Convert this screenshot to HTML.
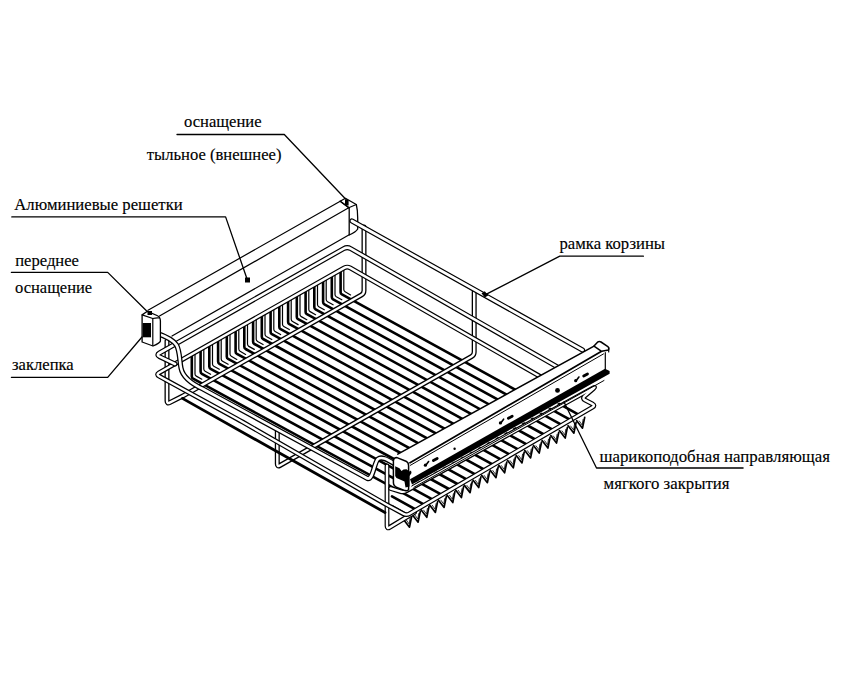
<!DOCTYPE html>
<html><head><meta charset="utf-8"><style>
html,body{margin:0;padding:0;background:#fff;width:845px;height:678px;overflow:hidden}
svg{display:block}
text{font-family:"Liberation Serif",serif;fill:#000;stroke:#000;stroke-width:0.15px}
</style></head><body>
<svg width="845" height="678" viewBox="0 0 845 678">
<g fill="none" stroke="#000" stroke-linecap="round" stroke-linejoin="round">
<path d="M392.0,506.1 L406.5,514.2" stroke-width="2.6" stroke="#000" fill="none"/>
<path d="M392.0,496.3 L415.1,509.2" stroke-width="2.6" stroke="#000" fill="none"/>
<path d="M195.0,352.7 L195.0,373.9 Q195.0,375.4 196.3,376.1 L201.8,379.2" stroke-width="1.2" stroke="#000" fill="none"/>
<path d="M191.8,354.5 L191.8,376.5 Q191.8,378.0 193.1,378.7 L423.8,504.3" stroke-width="2.6" stroke="#000" fill="none"/>
<path d="M203.8,347.8 L203.8,369.0 Q203.8,370.5 205.1,371.2 L210.6,374.3" stroke-width="1.2" stroke="#000" fill="none"/>
<path d="M200.6,349.6 L200.6,371.6 Q200.6,373.1 201.9,373.8 L432.4,499.4" stroke-width="2.6" stroke="#000" fill="none"/>
<path d="M212.5,342.8 L212.5,364.0 Q212.5,365.5 213.8,366.2 L219.3,369.3" stroke-width="1.2" stroke="#000" fill="none"/>
<path d="M209.3,344.6 L209.3,366.6 Q209.3,368.1 210.6,368.8 L441.1,494.4" stroke-width="2.6" stroke="#000" fill="none"/>
<path d="M221.2,337.8 L221.2,359.0 Q221.2,360.5 222.6,361.3 L228.1,364.3" stroke-width="1.2" stroke="#000" fill="none"/>
<path d="M218.1,339.6 L218.1,361.6 Q218.1,363.1 219.4,363.8 L449.8,489.5" stroke-width="2.6" stroke="#000" fill="none"/>
<path d="M230.0,332.9 L230.0,354.1 Q230.0,355.6 231.3,356.3 L236.8,359.4" stroke-width="1.2" stroke="#000" fill="none"/>
<path d="M226.8,334.7 L226.8,356.7 Q226.8,358.2 228.1,358.9 L458.4,484.5" stroke-width="2.6" stroke="#000" fill="none"/>
<path d="M238.8,327.9 L238.8,349.1 Q238.8,350.6 240.1,351.3 L245.6,354.4" stroke-width="1.2" stroke="#000" fill="none"/>
<path d="M235.6,329.7 L235.6,351.7 Q235.6,353.2 236.9,353.9 L467.1,479.6" stroke-width="2.6" stroke="#000" fill="none"/>
<path d="M247.5,322.9 L247.5,344.1 Q247.5,345.6 248.8,346.4 L254.3,349.4" stroke-width="1.2" stroke="#000" fill="none"/>
<path d="M244.3,324.7 L244.3,346.7 Q244.3,348.2 245.6,349.0 L475.7,474.6" stroke-width="2.6" stroke="#000" fill="none"/>
<path d="M256.2,318.0 L256.2,339.2 Q256.2,340.7 257.6,341.4 L263.1,344.5" stroke-width="1.2" stroke="#000" fill="none"/>
<path d="M253.1,319.8 L253.1,341.8 Q253.1,343.3 254.4,344.0 L484.4,469.7" stroke-width="2.6" stroke="#000" fill="none"/>
<path d="M265.0,313.0 L265.0,334.2 Q265.0,335.7 266.3,336.5 L271.8,339.5" stroke-width="1.2" stroke="#000" fill="none"/>
<path d="M261.8,314.8 L261.8,336.8 Q261.8,338.3 263.1,339.0 L493.0,464.7" stroke-width="2.6" stroke="#000" fill="none"/>
<path d="M273.8,308.1 L273.8,329.3 Q273.8,330.8 275.1,331.5 L280.6,334.6" stroke-width="1.2" stroke="#000" fill="none"/>
<path d="M270.6,309.9 L270.6,331.9 Q270.6,333.4 271.9,334.1 L501.6,459.8" stroke-width="2.6" stroke="#000" fill="none"/>
<path d="M282.5,303.1 L282.5,324.3 Q282.5,325.8 283.8,326.5 L289.3,329.6" stroke-width="1.2" stroke="#000" fill="none"/>
<path d="M279.3,304.9 L279.3,326.9 Q279.3,328.4 280.6,329.1 L510.3,454.8" stroke-width="2.6" stroke="#000" fill="none"/>
<path d="M291.2,298.1 L291.2,319.3 Q291.2,320.8 292.6,321.6 L298.1,324.6" stroke-width="1.2" stroke="#000" fill="none"/>
<path d="M288.1,299.9 L288.1,321.9 Q288.1,323.4 289.4,324.2 L519.0,449.9" stroke-width="2.6" stroke="#000" fill="none"/>
<path d="M300.0,293.2 L300.0,314.4 Q300.0,315.9 301.3,316.6 L306.8,319.7" stroke-width="1.2" stroke="#000" fill="none"/>
<path d="M296.8,295.0 L296.8,317.0 Q296.8,318.5 298.1,319.2 L527.6,444.9" stroke-width="2.6" stroke="#000" fill="none"/>
<path d="M308.8,288.2 L308.8,309.4 Q308.8,310.9 310.1,311.6 L315.6,314.7" stroke-width="1.2" stroke="#000" fill="none"/>
<path d="M305.6,290.0 L305.6,312.0 Q305.6,313.5 306.9,314.2 L536.2,440.0" stroke-width="2.6" stroke="#000" fill="none"/>
<path d="M317.5,283.3 L317.5,304.5 Q317.5,306.0 318.8,306.7 L324.3,309.8" stroke-width="1.2" stroke="#000" fill="none"/>
<path d="M314.3,285.1 L314.3,307.1 Q314.3,308.6 315.6,309.3 L544.9,435.0" stroke-width="2.6" stroke="#000" fill="none"/>
<path d="M326.2,278.3 L326.2,299.5 Q326.2,301.0 327.6,301.7 L333.1,304.8" stroke-width="1.2" stroke="#000" fill="none"/>
<path d="M323.1,280.1 L323.1,302.1 Q323.1,303.6 324.4,304.3 L553.5,430.1" stroke-width="2.6" stroke="#000" fill="none"/>
<path d="M335.0,273.3 L335.0,294.5 Q335.0,296.0 336.3,296.8 L341.8,299.8" stroke-width="1.2" stroke="#000" fill="none"/>
<path d="M331.8,275.1 L331.8,297.1 Q331.8,298.6 333.1,299.4 L562.2,425.1" stroke-width="2.6" stroke="#000" fill="none"/>
<path d="M343.8,268.4 L343.8,289.6 Q343.8,291.1 345.1,291.8 L350.6,294.9" stroke-width="1.2" stroke="#000" fill="none"/>
<path d="M340.6,270.2 L340.6,292.2 Q340.6,293.7 341.9,294.4 L570.9,420.2" stroke-width="2.6" stroke="#000" fill="none"/>
<path d="M539.5,392.8 L579.5,415.2" stroke-width="2.6" stroke="#000" fill="none"/>
<polyline points="403.7,519.7 409.5,527.2 411.7,516.4" stroke-width="1.7" stroke="#000"/>
<polyline points="406.3,520.0 409.2,524.0 410.1,518.4" stroke-width="0.8" stroke="#000"/>
<polyline points="412.3,514.8 418.1,522.2 420.3,511.4" stroke-width="1.7" stroke="#000"/>
<polyline points="414.9,515.0 417.8,519.0 418.8,513.5" stroke-width="0.8" stroke="#000"/>
<polyline points="421.0,509.8 426.8,517.3 429.0,506.5" stroke-width="1.7" stroke="#000"/>
<polyline points="423.6,510.1 426.5,514.1 427.4,508.5" stroke-width="0.8" stroke="#000"/>
<polyline points="429.6,504.9 435.4,512.4 437.6,501.6" stroke-width="1.7" stroke="#000"/>
<polyline points="432.2,505.2 435.1,509.2 436.1,503.6" stroke-width="0.8" stroke="#000"/>
<polyline points="438.3,499.9 444.1,507.4 446.3,496.6" stroke-width="1.7" stroke="#000"/>
<polyline points="440.9,500.2 443.8,504.2 444.7,498.6" stroke-width="0.8" stroke="#000"/>
<polyline points="446.9,495.0 452.8,502.5 454.9,491.7" stroke-width="1.7" stroke="#000"/>
<polyline points="449.6,495.3 452.4,499.3 453.4,493.7" stroke-width="0.8" stroke="#000"/>
<polyline points="455.6,490.0 461.4,497.5 463.6,486.7" stroke-width="1.7" stroke="#000"/>
<polyline points="458.2,490.3 461.1,494.3 462.0,488.7" stroke-width="0.8" stroke="#000"/>
<polyline points="464.2,485.1 470.1,492.6 472.2,481.8" stroke-width="1.7" stroke="#000"/>
<polyline points="466.9,485.4 469.8,489.4 470.7,483.8" stroke-width="0.8" stroke="#000"/>
<polyline points="472.9,480.1 478.7,487.6 480.9,476.8" stroke-width="1.7" stroke="#000"/>
<polyline points="475.5,480.4 478.4,484.4 479.3,478.8" stroke-width="0.8" stroke="#000"/>
<polyline points="481.6,475.2 487.4,482.7 489.6,471.9" stroke-width="1.7" stroke="#000"/>
<polyline points="484.2,475.5 487.1,479.5 488.0,473.9" stroke-width="0.8" stroke="#000"/>
<polyline points="490.2,470.2 496.0,477.7 498.2,466.9" stroke-width="1.7" stroke="#000"/>
<polyline points="492.8,470.5 495.7,474.5 496.6,468.9" stroke-width="0.8" stroke="#000"/>
<polyline points="498.8,465.3 504.6,472.8 506.8,462.0" stroke-width="1.7" stroke="#000"/>
<polyline points="501.4,465.6 504.3,469.6 505.2,464.0" stroke-width="0.8" stroke="#000"/>
<polyline points="507.5,460.3 513.3,467.8 515.5,457.0" stroke-width="1.7" stroke="#000"/>
<polyline points="510.1,460.6 513.0,464.6 513.9,459.0" stroke-width="0.8" stroke="#000"/>
<polyline points="516.2,455.4 522.0,462.9 524.2,452.1" stroke-width="1.7" stroke="#000"/>
<polyline points="518.8,455.7 521.7,459.7 522.6,454.1" stroke-width="0.8" stroke="#000"/>
<polyline points="524.8,450.4 530.6,457.9 532.8,447.1" stroke-width="1.7" stroke="#000"/>
<polyline points="527.4,450.7 530.3,454.7 531.2,449.1" stroke-width="0.8" stroke="#000"/>
<polyline points="533.5,445.5 539.2,453.0 541.5,442.2" stroke-width="1.7" stroke="#000"/>
<polyline points="536.0,445.8 539.0,449.8 539.9,444.2" stroke-width="0.8" stroke="#000"/>
<polyline points="542.1,440.5 547.9,448.0 550.1,437.2" stroke-width="1.7" stroke="#000"/>
<polyline points="544.7,440.8 547.6,444.8 548.5,439.2" stroke-width="0.8" stroke="#000"/>
<polyline points="550.8,435.6 556.5,443.1 558.8,432.3" stroke-width="1.7" stroke="#000"/>
<polyline points="553.3,435.9 556.2,439.9 557.1,434.3" stroke-width="0.8" stroke="#000"/>
<polyline points="559.4,430.6 565.2,438.1 567.4,427.3" stroke-width="1.7" stroke="#000"/>
<polyline points="562.0,430.9 564.9,434.9 565.8,429.3" stroke-width="0.8" stroke="#000"/>
<polyline points="568.1,425.7 573.9,433.2 576.1,422.4" stroke-width="1.7" stroke="#000"/>
<polyline points="570.6,426.0 573.6,430.0 574.5,424.4" stroke-width="0.8" stroke="#000"/>
<polyline points="576.7,420.7 582.5,428.2 584.7,417.4" stroke-width="1.7" stroke="#000"/>
<polyline points="579.3,421.0 582.2,425.0 583.1,419.4" stroke-width="0.8" stroke="#000"/>
<path d="M167.0,341.0 L167.0,401.0 Q167.0,404.0 169.7,402.6 L181.3,396.8 Q184.0,395.4 186.6,393.9 L361.4,295.0 Q364.0,293.5 364.0,290.5 L364.0,227.0" stroke-width="5.0" stroke="#000" fill="none"/>
<path d="M167.0,341.0 L167.0,401.0 Q167.0,404.0 169.7,402.6 L181.3,396.8 Q184.0,395.4 186.6,393.9 L361.4,295.0 Q364.0,293.5 364.0,290.5 L364.0,227.0" stroke-width="2.4" stroke="#fff" fill="none"/>
<path d="M277.3,430.0 L277.3,464.0 Q277.3,467.0 279.9,465.5 L471.6,356.5 Q474.2,355.0 474.2,352.0 L474.2,292.0" stroke-width="5.0" stroke="#000" fill="none"/>
<path d="M277.3,430.0 L277.3,464.0 Q277.3,467.0 279.9,465.5 L471.6,356.5 Q474.2,355.0 474.2,352.0 L474.2,292.0" stroke-width="2.4" stroke="#fff" fill="none"/>
<path d="M387.0,466.0 L387.0,526.0 Q387.0,529.0 389.6,527.4 L414.5,512.4" stroke-width="4.8" stroke="#000" fill="none"/>
<path d="M387.0,466.0 L387.0,526.0 Q387.0,529.0 389.6,527.4 L414.5,512.4" stroke-width="2.4" stroke="#fff" fill="none"/>
<path d="M539.6,376.2 L350.2,267.9 Q347.2,266.2 344.2,267.9 L159.0,372.8 Q156.0,374.5 159.1,376.2 L236.9,418.8 Q240.0,420.5 243.0,422.2 L381.5,501.8 Q384.5,503.5 387.6,505.2 L403.4,513.8 Q406.5,515.5 409.5,513.7 L592.5,407.3 Q595.5,405.5 592.4,403.9 L585.1,400.1 Q582.0,398.5 584.6,396.2 L593.4,388.6 Q596.0,386.3 592.9,388.0 L406.4,490.8 Q403.3,492.5 400.0,491.4 L390.6,488.5" stroke-width="4.8" stroke="#000" fill="none"/>
<path d="M539.6,376.2 L350.2,267.9 Q347.2,266.2 344.2,267.9 L159.0,372.8 Q156.0,374.5 159.1,376.2 L236.9,418.8 Q240.0,420.5 243.0,422.2 L381.5,501.8 Q384.5,503.5 387.6,505.2 L403.4,513.8 Q406.5,515.5 409.5,513.7 L592.5,407.3 Q595.5,405.5 592.4,403.9 L585.1,400.1 Q582.0,398.5 584.6,396.2 L593.4,388.6 Q596.0,386.3 592.9,388.0 L406.4,490.8 Q403.3,492.5 400.0,491.4 L390.6,488.5" stroke-width="2.4" stroke="#fff" fill="none"/>
<path d="M175.0,364.0 L159.6,356.7 Q156.0,355.0 159.5,353.0 L343.7,248.6 Q347.2,246.6 350.7,248.6 L558.6,367.6" stroke-width="5.0" stroke="#000" fill="none"/>
<path d="M175.0,364.0 L159.6,356.7 Q156.0,355.0 159.5,353.0 L343.7,248.6 Q347.2,246.6 350.7,248.6 L558.6,367.6" stroke-width="2.6" stroke="#fff" fill="none"/>
<line x1="182.4" y1="398.4" x2="385.0" y2="512.5" stroke-width="2.8" stroke="#000"/>
<polygon points="148.0,310.3 340.2,201.2 348.7,207.8 349.2,234.8 172.0,336.0 160.0,342.0 159.5,316.0" fill="#fff" stroke-width="0" stroke="none"/>
<line x1="148.0" y1="310.3" x2="340.2" y2="201.2" stroke-width="1.2" stroke="#000"/>
<line x1="159.5" y1="316.0" x2="348.7" y2="207.8" stroke-width="1.2" stroke="#000"/>
<line x1="172.0" y1="336.0" x2="349.2" y2="234.8" stroke-width="1.2" stroke="#000"/>
<path d="M156,333 C165,336 173,340 176.5,345 C180,351 179.5,361 181,368 C182.5,376 190,383 203,389 L367.5,478.5 C373,480 374,463 378,459 C382,456 388,460 395,464" stroke-width="5.2" stroke="#000" fill="none"/>
<path d="M156,333 C165,336 173,340 176.5,345 C180,351 179.5,361 181,368 C182.5,376 190,383 203,389 L367.5,478.5 C373,480 374,463 378,459 C382,456 388,460 395,464" stroke-width="2.6" stroke="#fff" fill="none"/>
<path d="M142.1,314.9 L147.4,311.3 L157,315.5 Q160.4,317 160.4,321 L160.4,341 Q160,343 153,346 L142.1,342 Z" stroke-width="1.3" fill="#fff" stroke="#000"/>
<line x1="142.1" y1="314.9" x2="152.8" y2="318.5" stroke-width="1.2" stroke="#000"/>
<line x1="152.8" y1="318.5" x2="152.8" y2="345.6" stroke-width="1.2" stroke="#000"/>
<path d="M152.8,318.5 Q157,317.5 159,318" stroke-width="1.1" fill="none" stroke="#000"/>
<rect x="142.7" y="323" width="8.3" height="14.3" fill="#000" stroke="none"/>
<rect x="147.5" y="311" width="4.5" height="4" fill="#000" stroke="none"/>
<path d="M340.2,201.2 L345.4,198.3 L356.3,204.5 Q357.7,210 357.7,218 L357.7,229 Q356,232 349.2,235 L349.2,207.8 Z" stroke-width="1.3" fill="#fff" stroke="#000"/>
<line x1="340.2" y1="201.2" x2="348.7" y2="207.8" stroke-width="1.2" stroke="#000"/>
<line x1="348.7" y1="207.8" x2="356.3" y2="204.5" stroke-width="1.2" stroke="#000"/>
<rect x="345" y="200" width="3.6" height="5.5" fill="#000" stroke="none"/>
<path d="M352.0,221.0 L582.5,350.0" stroke-width="5.2" stroke="#000" fill="none"/>
<path d="M352.0,221.0 L582.5,350.0" stroke-width="2.8" stroke="#fff" fill="none"/>
<polygon points="481.5,293.2 484.8,291.2 488.2,295.6 484.8,297.6" fill="#000" stroke-width="0" stroke="none"/>
<polygon points="397.8,454.1 594.0,346.1 599.2,341.4 608.7,347.5 609.6,374.5 412.0,485.0 409.7,490.0 405.5,489.8 395.4,484.5 395.4,458.5" fill="#fff" stroke-width="0" stroke="none"/>
<line x1="397.8" y1="454.1" x2="594.0" y2="346.1" stroke-width="1.6" stroke="#000"/>
<line x1="410.0" y1="462.7" x2="601.6" y2="351.2" stroke-width="1.8" stroke="#000"/>
<line x1="410.4" y1="465.3" x2="603.5" y2="353.9" stroke-width="1.0" stroke="#000"/>
<path d="M594,346.1 L597.5,342.2 Q599.2,341 601,342 L607.5,346.3 Q609.5,348 608.5,350 L601.6,351.3 Z" stroke-width="1.5" fill="#fff" stroke="#000"/>
<line x1="608.7" y1="347.5" x2="608.7" y2="352.0" stroke-width="1.2" stroke="#000"/>
<line x1="605.3" y1="352.7" x2="605.3" y2="370.7" stroke-width="1.2" stroke="#000"/>
<polygon points="410.0,479.2 605.0,368.8 609.6,371.0 609.6,373.8 412.0,484.6" fill="#000" stroke-width="0" stroke="none"/>
<line x1="413.9" y1="487.3" x2="604.0" y2="380.5" stroke-width="1.0" stroke="#000"/>
<path d="M393.4,461 Q393.6,457.6 397,457.6 L406,461.2 Q408.6,462.6 408.6,465.5 L408.6,489.5 Q408,491.2 405,490.6 L397.5,487.8 Q393.4,486.2 393.4,482.5 Z" stroke-width="1.5" fill="#fff" stroke="#000"/>
<path d="M395.2,466.2 L399.5,468.2 L401.5,471 L403.5,469.5 L406.5,469.2 L409.5,471.5 L411,470.5 L411.5,473 L409.5,476 L409.5,486.5 L405.5,487.5 L404.5,481.5 L396.5,478 L395.2,476 Z" stroke-width="0" fill="#000" stroke="#000"/>
<circle cx="425.4" cy="465.2" r="1.6" fill="#000" stroke="none"/>
<path d="M426,465.0 L428.6,461.5" stroke-width="1.6" fill="none"/>
<path d="M433.4,460.6 L437.2,458.5" stroke-width="2.8" fill="none"/>
<circle cx="500.4" cy="422.9" r="1.6" fill="#000" stroke="none"/>
<path d="M501,422.7 L503.6,419.2" stroke-width="1.6" fill="none"/>
<path d="M508.4,418.3 L512.2,416.2" stroke-width="2.8" fill="none"/>
<circle cx="575.6999999999999" cy="380.7" r="1.6" fill="#000" stroke="none"/>
<path d="M576.3,380.5 L578.9,377" stroke-width="1.6" fill="none"/>
<path d="M583.6999999999999,376.1 L587.5,374.0" stroke-width="2.8" fill="none"/>
<circle cx="557.5" cy="390.4" r="2.4" fill="#000" stroke="none"/>
<circle cx="454.6" cy="448.8" r="1.2" fill="#000" stroke="none"/>
<polyline points="177.0,134.5 284.3,134.5 346.3,199.7" stroke-width="1.3" stroke="#000"/>
<polyline points="11.8,216.9 225.6,216.9 247.4,280.0" stroke-width="1.3" stroke="#000"/>
<rect x="245" y="277.5" width="5" height="5" fill="#000" stroke="none"/>
<polyline points="11.4,272.4 107.7,272.4 146.7,311.0" stroke-width="1.3" stroke="#000"/>
<polyline points="11.4,377.3 107.7,377.3 142.0,337.0" stroke-width="1.3" stroke="#000"/>
<polyline points="643.4,256.2 559.8,256.2 485.0,294.8" stroke-width="1.3" stroke="#000"/>
<polyline points="743.1,468.0 596.5,468.0 564.0,402.0" stroke-width="1.3" stroke="#000"/>
</g>
<text x="184" y="126.8" font-size="16.6">оснащение</text>
<text x="146.8" y="159.9" font-size="16.6">тыльное (внешнее)</text>
<text x="14.3" y="210.3" font-size="16.7">Алюминиевые решетки</text>
<text x="15.2" y="265.7" font-size="16.6">переднее</text>
<text x="15" y="293.4" font-size="16.5">оснащение</text>
<text x="12" y="370.3" font-size="16.6">заклепка</text>
<text x="559.5" y="248.7" font-size="16.7">рамка корзины</text>
<text x="599.5" y="462.1" font-size="16.85">шарикоподобная направляющая</text>
<text x="603.6" y="488.9" font-size="16.8">мягкого закрытия</text>
</svg>
</body></html>
